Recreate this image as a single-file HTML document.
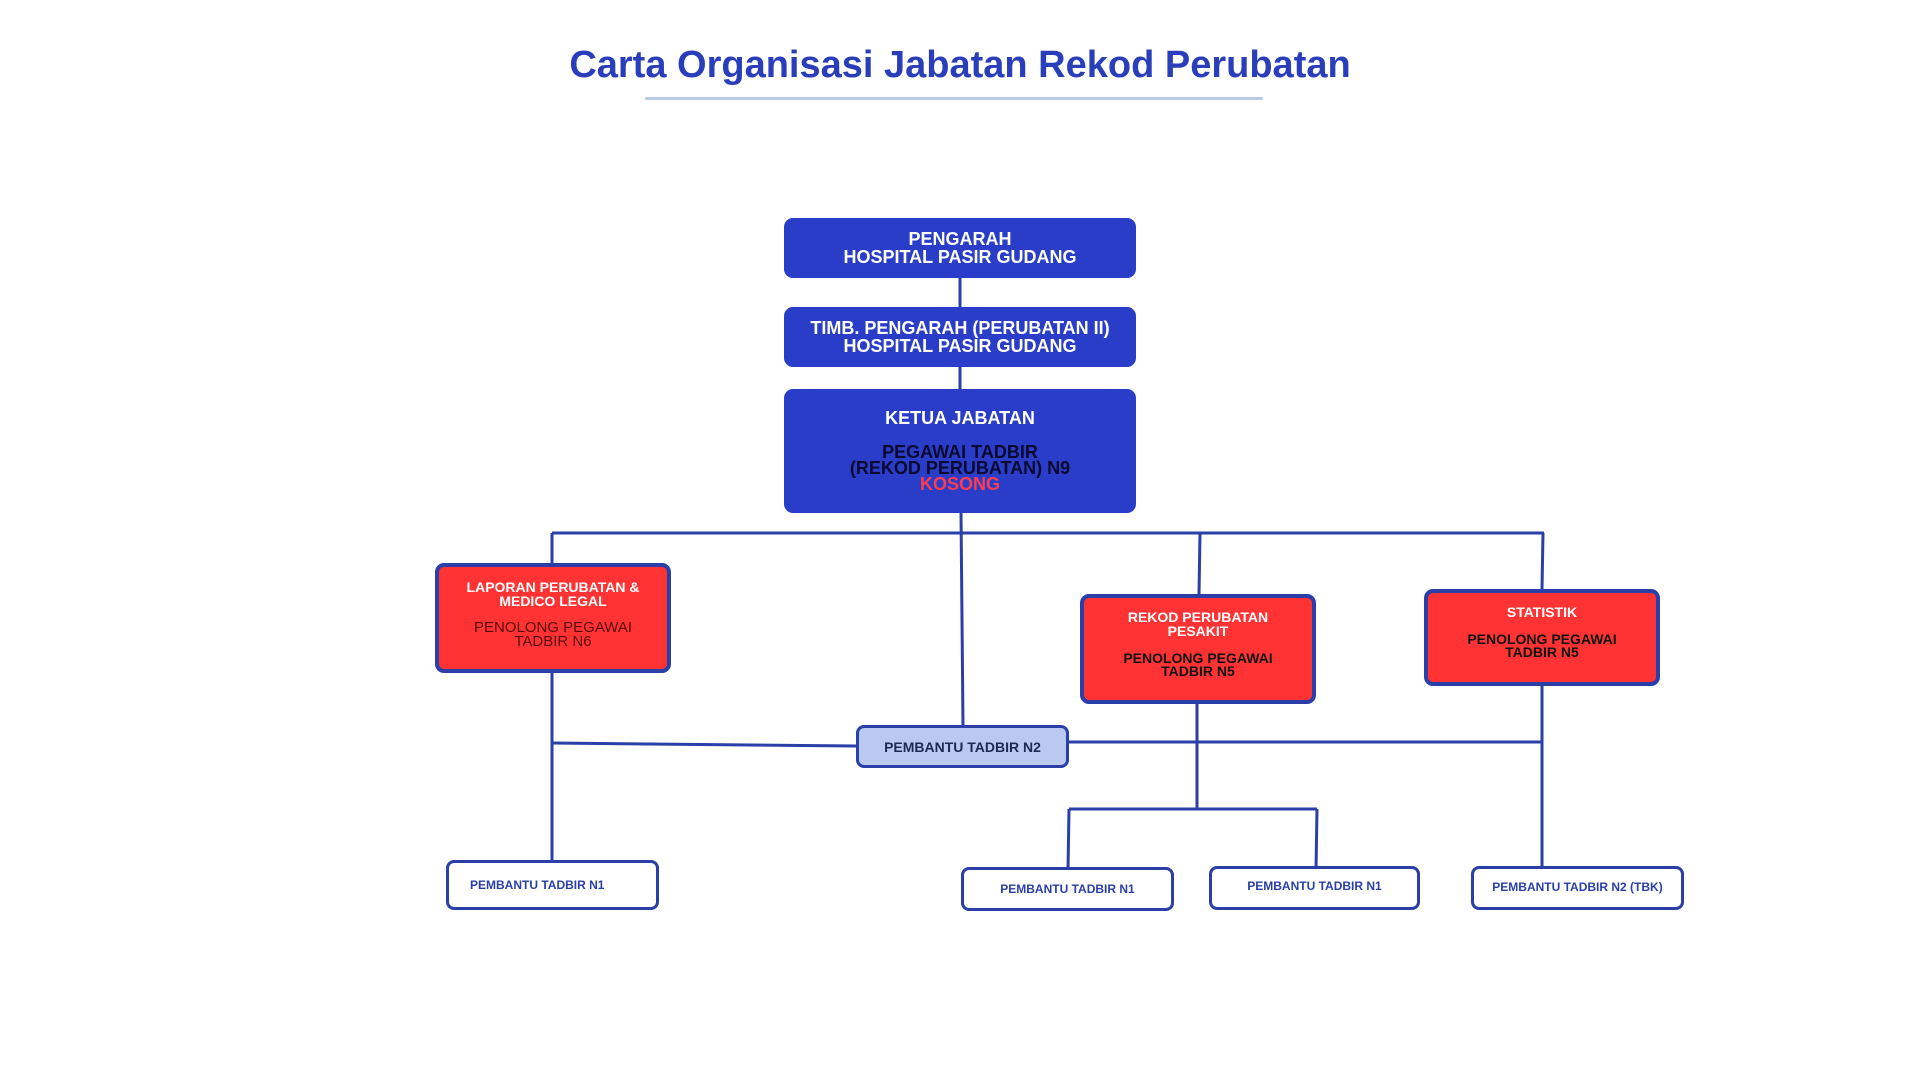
<!DOCTYPE html>
<html><head><meta charset="utf-8"><style>
html,body{margin:0;padding:0;background:#fff;}
body{width:1920px;height:1080px;position:relative;overflow:hidden;font-family:"Liberation Sans",Arial,sans-serif;}
.b{position:absolute;box-sizing:border-box;display:flex;flex-direction:column;align-items:center;justify-content:center;text-align:center;font-weight:bold;line-height:1.0;}
.blue{background:#2a3dc8;color:#fff;border-radius:9px;font-size:18px;}
.red{background:#ff3333;border:4px solid #2a3fa8;border-radius:9px;color:#fff;font-size:14px;}
.w{background:#fff;border:3.5px solid #2a3fa8;border-radius:8px;color:#2a3fa8;font-size:12px;}
</style></head><body>
<div style="position:absolute;left:0;width:1920px;top:44px;text-align:center;font-size:38px;font-weight:bold;color:#2a3dbb;">Carta Organisasi Jabatan Rekod Perubatan</div>
<div style="position:absolute;left:645px;width:618px;top:97px;height:3px;background:#b9c9e8;border-radius:2px;"></div>
<svg width="1920" height="1080" style="position:absolute;left:0;top:0" fill="none" stroke="#2a3fa8" stroke-width="3">
<line x1="960" y1="278" x2="960" y2="307"/>
<line x1="960" y1="367" x2="960" y2="389"/>
<line x1="961" y1="513" x2="963" y2="725"/>
<line x1="552" y1="533" x2="1544" y2="533"/>
<line x1="552" y1="533" x2="552" y2="563"/>
<line x1="1200" y1="533" x2="1199" y2="594"/>
<line x1="1543" y1="533" x2="1542" y2="589"/>
<line x1="552" y1="673" x2="552" y2="861"/>
<line x1="552" y1="743" x2="856" y2="746"/>
<line x1="1069" y1="742" x2="1542" y2="742"/>
<line x1="1542" y1="686" x2="1542" y2="866"/>
<line x1="1197" y1="704" x2="1197" y2="809"/>
<line x1="1069" y1="809" x2="1317" y2="809"/>
<line x1="1069" y1="809" x2="1068" y2="870"/>
<line x1="1317" y1="809" x2="1316" y2="870"/>
</svg>
<div class="b blue" style="left:784px;top:218px;width:352px;height:60px;">PENGARAH<br>HOSPITAL PASIR GUDANG</div>
<div class="b blue" style="left:784px;top:307px;width:352px;height:60px;">TIMB. PENGARAH (PERUBATAN II)<br>HOSPITAL PASIR GUDANG</div>
<div class="b blue" style="left:784px;top:389px;width:352px;height:124px;justify-content:flex-start;padding-top:20px;">KETUA JABATAN<div style="margin-top:17px;color:#0a0a30;line-height:0.9;">PEGAWAI TADBIR<br>(REKOD PERUBATAN) N9<br><span style="color:#ff3b4f">KOSONG</span></div></div>
<div class="b red" style="left:435px;top:563px;width:236px;height:110px;justify-content:flex-start;padding-top:13px;">LAPORAN PERUBATAN &amp;<br>MEDICO LEGAL<div style="margin-top:13px;color:#5a0a0a;font-weight:normal;font-size:15px;line-height:0.95;">PENOLONG PEGAWAI<br>TADBIR N6</div></div>
<div class="b red" style="left:1080px;top:594px;width:236px;height:110px;justify-content:flex-start;padding-top:12px;">REKOD PERUBATAN<br>PESAKIT<div style="margin-top:14px;color:#111;line-height:0.95;">PENOLONG PEGAWAI<br>TADBIR N5</div></div>
<div class="b red" style="left:1424px;top:589px;width:236px;height:97px;justify-content:flex-start;padding-top:12px;">STATISTIK<div style="margin-top:14px;color:#111;line-height:0.95;">PENOLONG PEGAWAI<br>TADBIR N5</div></div>
<div class="b" style="left:856px;top:725px;width:213px;height:43px;background:#b9c9ef;border:3.5px solid #2a3fa8;border-radius:8px;color:#1e2a55;font-size:14px;">PEMBANTU TADBIR N2</div>
<div class="b w" style="left:446px;top:860px;width:213px;height:50px;align-items:flex-start;padding-left:21px;">PEMBANTU TADBIR N1</div>
<div class="b w" style="left:961px;top:867px;width:213px;height:44px;">PEMBANTU TADBIR N1</div>
<div class="b w" style="left:1209px;top:866px;width:211px;height:44px;padding-bottom:4px;">PEMBANTU TADBIR N1</div>
<div class="b w" style="left:1471px;top:866px;width:213px;height:44px;padding-bottom:2px;">PEMBANTU TADBIR N2 (TBK)</div>
</body></html>
